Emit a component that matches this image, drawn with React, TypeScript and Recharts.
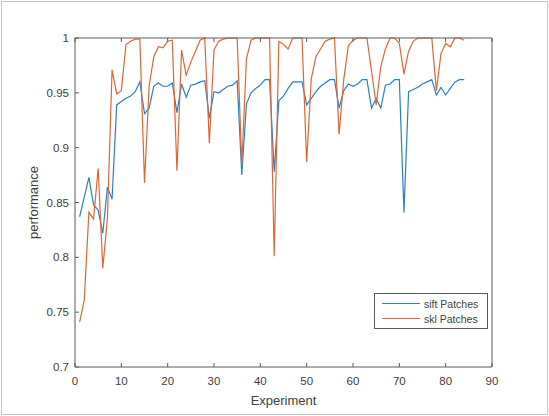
import React from 'react';
import { LineChart, Line, XAxis, YAxis, Legend } from 'recharts';

// experiment index 1..84
const experiments = Array.from({ length: 84 }, (_, i) => i + 1);

const siftPatches = [
  0.837, 0.855, 0.873, 0.848, 0.843, 0.822, 0.864, 0.853, 0.939, 0.942,
  0.945, 0.947, 0.951, 0.960, 0.931, 0.936, 0.956, 0.959, 0.956, 0.956,
  0.959, 0.932, 0.958, 0.946, 0.957, 0.958, 0.960, 0.961, 0.927, 0.951,
  0.950, 0.953, 0.956, 0.957, 0.961, 0.875, 0.940, 0.950, 0.954, 0.957,
  0.962, 0.962, 0.878, 0.943, 0.947, 0.954, 0.960, 0.960, 0.960, 0.939,
  0.945, 0.951, 0.956, 0.959, 0.962, 0.962, 0.936, 0.952, 0.958, 0.956,
  0.958, 0.962, 0.962, 0.936, 0.945, 0.936, 0.957, 0.958, 0.962, 0.962,
  0.841, 0.951, 0.953, 0.955, 0.958, 0.960, 0.962, 0.948, 0.955, 0.948,
  0.954, 0.960, 0.962, 0.962,
];

const sklPatches = [
  0.741, 0.761, 0.841, 0.835, 0.881, 0.790, 0.836, 0.971, 0.949, 0.952,
  0.994, 0.997, 0.999, 0.999, 0.868, 0.956, 0.983, 0.992, 0.991, 0.997,
  0.998, 0.879, 0.989, 0.966, 0.978, 0.988, 0.998, 1.0, 0.904, 0.989,
  0.997, 0.999, 1.0, 1.0, 1.0, 0.884, 0.981, 0.998, 1.0, 1.0,
  1.0, 1.0, 0.801, 0.997, 0.994, 0.990, 1.0, 1.0, 1.0, 0.887,
  0.963, 0.983, 0.990, 0.997, 0.999, 1.0, 0.912, 0.962, 0.993, 0.998,
  1.0, 1.0, 1.0, 0.970, 0.939, 0.974, 0.990, 1.0, 1.0, 0.995,
  0.967, 0.988, 0.997, 1.0, 1.0, 1.0, 1.0, 0.952, 0.986, 0.995,
  0.992, 1.0, 1.0, 0.998,
];

const xTicks = [0, 10, 20, 30, 40, 50, 60, 70, 80, 90];
const yTicks = [0.7, 0.75, 0.8, 0.85, 0.9, 0.95, 1];

const data = experiments.map((x, i) => ({
  x,
  sift: siftPatches[i],
  skl: sklPatches[i],
}));

const FONT = '"Liberation Sans", Arial, sans-serif';
const AXIS = '#5a5a5a';
const TEXT = '#404040';

const renderLegend = (props: any) => {
  const { payload } = props;
  return (
    <div
      style={{
        width: 114,
        boxSizing: 'border-box',
        border: `1px solid ${AXIS}`,
        background: '#fff',
        padding: '2px 0 2px 7px',
        fontFamily: FONT,
        fontSize: 10.5,
        color: TEXT,
      }}
    >
      {payload.map((entry: any) => (
        <div key={entry.value} style={{ display: 'flex', alignItems: 'center', height: 15 }}>
          <span
            style={{
              display: 'inline-block',
              width: 38,
              height: 0,
              borderTop: `1.2px solid ${entry.color}`,
              marginRight: 4,
            }}
          />
          <span>{entry.value}</span>
        </div>
      ))}
    </div>
  );
};

const App = () => {
  return (
    <div style={{ position: 'absolute', left: 0, top: 0, width: 549, height: 416, background: '#fff' }}>
      <LineChart
        width={549}
        height={416}
        data={data}
        margin={{ top: 37, right: 56, bottom: 48, left: 74 }}
        style={{ fontFamily: FONT }}
      >
        <XAxis
          dataKey="x"
          type="number"
          domain={[0, 90]}
          ticks={xTicks}
          height={1}
          stroke={AXIS}
          tickSize={-4}
          tickMargin={14}
          tick={{ fill: TEXT, fontSize: 11.5 }}
          label={{ value: 'Experiment', position: 'bottom', offset: 28, fill: TEXT, fontSize: 13 }}
        />
        <XAxis
          xAxisId="top"
          dataKey="x"
          type="number"
          orientation="top"
          domain={[0, 90]}
          ticks={xTicks}
          height={1}
          stroke={AXIS}
          tickSize={-4}
          tickFormatter={() => ''}
        />
        <YAxis
          type="number"
          domain={[0.7, 1]}
          ticks={yTicks}
          width={1}
          stroke={AXIS}
          tickSize={-4}
          tickMargin={10}
          tick={{ fill: TEXT, fontSize: 11.5 }}
          label={{
            value: 'performance',
            angle: -90,
            position: 'left',
            offset: 41,
            fill: TEXT,
            fontSize: 13,
            style: { textAnchor: 'middle' },
          }}
        />
        <YAxis
          yAxisId="right"
          type="number"
          orientation="right"
          domain={[0.7, 1]}
          ticks={yTicks}
          width={1}
          stroke={AXIS}
          tickSize={-4}
          tickFormatter={() => ''}
        />
        <Legend
          content={renderLegend}
          layout="vertical"
          align="center"
          verticalAlign="middle"
          wrapperStyle={{ left: 374, top: 293, width: 114 }}
        />
        <Line
          type="linear"
          dataKey="sift"
          name="sift Patches"
          stroke="#2b80c2"
          strokeWidth={1.2}
          dot={false}
          isAnimationActive={false}
        />
        <Line
          type="linear"
          dataKey="skl"
          name="skl Patches"
          stroke="#df6534"
          strokeWidth={1.2}
          dot={false}
          isAnimationActive={false}
        />
      </LineChart>
      <div
        style={{
          position: 'absolute',
          left: 1,
          top: 1,
          right: 1,
          bottom: 1,
          border: '1px solid #c8c8c8',
          pointerEvents: 'none',
        }}
      />
    </div>
  );
};

export default App;
